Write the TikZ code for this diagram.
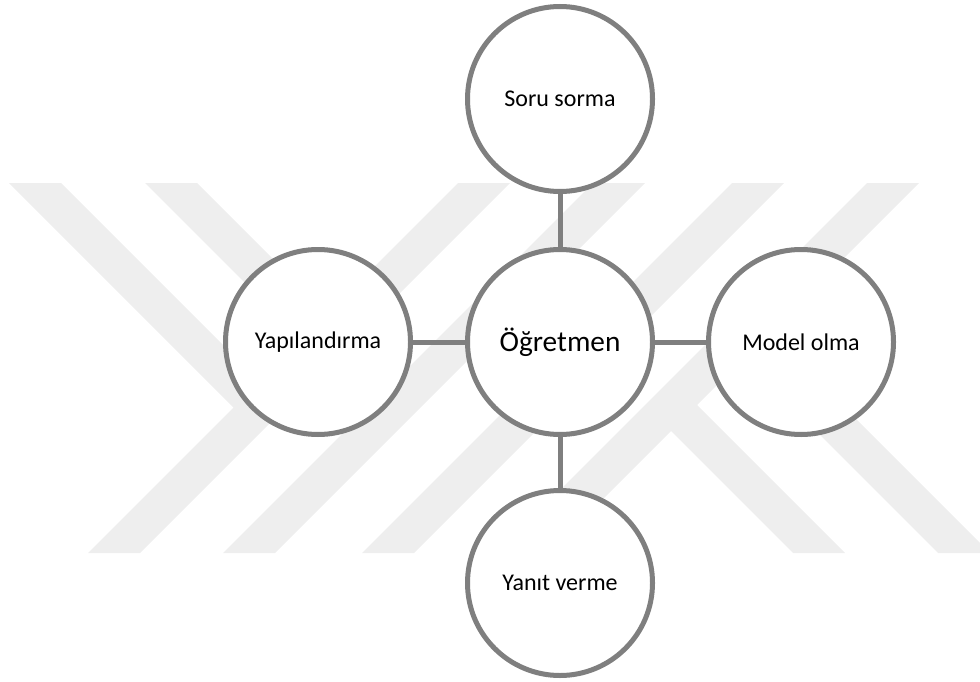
\documentclass[tikz,border=0pt]{standalone}
\usepackage{fontspec}
\setmainfont{Carlito}
\definecolor{wm}{RGB}{238,238,238}
\definecolor{ring}{RGB}{127,127,127}
\begin{document}
\begin{tikzpicture}[x=0.75pt,y=-0.75pt,
  bubble/.style={circle, draw=ring, line width=3.75pt, fill=white,
    minimum size=138.75pt, inner sep=0pt, font=\fontsize{18}{21}\selectfont},
  hub/.style={bubble, font=\fontsize{22}{26}\selectfont},
  link/.style={draw=ring, line width=3.75pt}]
\useasboundingbox (0,0) rectangle (980,681);

% background stripes
\begin{scope}
  \clip (0,183) rectangle (980,553);
  % rising bands
  \fill[wm] (88,553) -- (140,553) -- (510,183) -- (458,183) -- cycle;
  \fill[wm] (223,553) -- (275,553) -- (645,183) -- (593,183) -- cycle;
  \fill[wm] (362,553) -- (414,553) -- (784,183) -- (732,183) -- cycle;
  \fill[wm] (497,553) -- (549,553) -- (919,183) -- (867,183) -- cycle;
  % falling bands
  \fill[wm] (9,183) -- (61,183) -- (272.5,394.5) -- (246.5,420.5) -- cycle;
  \fill[wm] (145,183) -- (197,183) -- (408,394) -- (382,420) -- cycle;
  \fill[wm] (658,418) -- (684,392) -- (845,553) -- (793,553) -- cycle;
  \fill[wm] (730.5,345.5) -- (756.5,319.5) -- (990,553) -- (938,553) -- cycle;
\end{scope}

% circles
\node[hub]    (ogr)   at (560,342) {Öğretmen};
\node[bubble] (soru)  at (560,99)  {Soru sorma};
\node[bubble] (yap)   at (318,342) {Yapılandırma};
\node[bubble] (model) at (801,342) {Model olma};
\node[bubble] (yanit) at (560,583) {Yanıt verme};

% connectors
\draw[link] (ogr) -- (soru);
\draw[link] (ogr) -- (yanit);
\draw[link] (ogr) -- (yap);
\draw[link] (ogr) -- (model);
\end{tikzpicture}
\end{document}
